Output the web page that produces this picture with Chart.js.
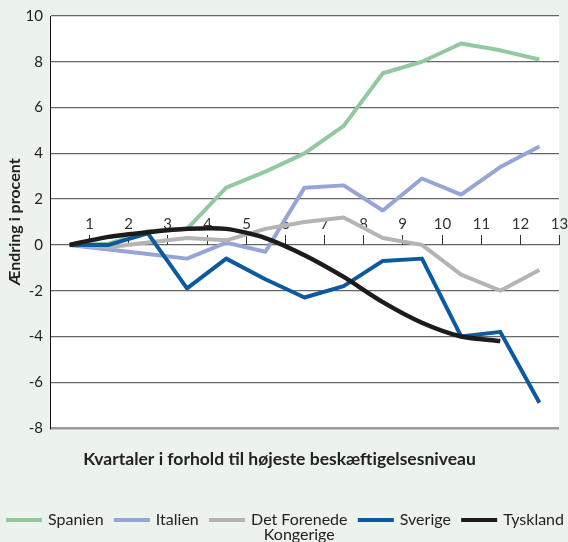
<!DOCTYPE html>
<html>
<head>
<meta charset="utf-8">
<script src="https://cdn.jsdelivr.net/npm/chart.js@4"></script>
<style>
  html, body { margin: 0; padding: 0; background: #ecf3ec; }
  #wrap { width: 568px; height: 542px; }
</style>
</head>
<body>
<div id="wrap"><canvas id="chart" width="568" height="542"></canvas></div>
<script>
// --- DATA ---
const quarters = ['1', '2', '3', '4', '5', '6', '7', '8', '9', '10', '11', '12', '13'];
const yTickValues = [-8, -6, -4, -2, 0, 2, 4, 6, 8, 10];

const spanien    = [0, 0.05, 0.6, 0.7, 2.5, 3.2, 4.0, 5.2, 7.5, 8.0, 8.8, 8.5, 8.1];
const italien    = [0, -0.2, -0.4, -0.6, 0.1, -0.3, 2.5, 2.6, 1.5, 2.9, 2.2, 3.4, 4.3];
const kongerige  = [0, -0.1, 0.1, 0.3, 0.2, 0.7, 1.0, 1.2, 0.3, 0.0, -1.3, -2.0, -1.1];
const sverige    = [0, 0, 0.5, -1.9, -0.6, -1.5, -2.3, -1.8, -0.7, -0.6, -4.0, -3.8, -6.9];
const tyskland   = [0, 0.35, 0.55, 0.7, 0.7, 0.3, -0.45, -1.4, -2.5, -3.4, -4.0, -4.2];

const FONT = 'Lato, "Open Sans", sans-serif';
Chart.defaults.font.family = FONT;

// white plot area on the green page
const plotBackground = {
  id: 'plotBackground',
  beforeDraw(chart) {
    const { ctx, chartArea: a } = chart;
    ctx.save();
    ctx.fillStyle = '#ffffff';
    ctx.fillRect(a.left, a.top, a.right - a.left, a.bottom - a.top);
    ctx.restore();
  }
};

// quarter ticks sit on the zero line, labels above, at the band edges
const zeroAxis = {
  id: 'zeroAxis',
  beforeDatasetsDraw(chart) {
    const { ctx, scales: { x, y } } = chart;
    const y0 = Math.round(y.getPixelForValue(0));
    const band = x.width / quarters.length;
    ctx.save();
    ctx.strokeStyle = '#333';
    ctx.lineWidth = 1;
    ctx.font = '15px ' + FONT;
    ctx.fillStyle = '#333';
    ctx.textAlign = 'center';
    ctx.textBaseline = 'middle';
    quarters.forEach((q, i) => {
      const px = Math.round(x.getPixelForValue(i) + band / 2) + 0.5;
      ctx.beginPath();
      ctx.moveTo(px, y0);
      ctx.lineTo(px, y0 - 10);
      ctx.stroke();
      ctx.fillText(q, px, y0 - 21);
    });
    ctx.restore();
  }
};

// legend along the bottom, labels may wrap with \n
const bottomLegend = {
  id: 'bottomLegend',
  afterDraw(chart) {
    const { ctx } = chart;
    ctx.save();
    ctx.font = '16px ' + FONT;
    const lineLen = 36, gap = 6;
    const items = chart.data.datasets.map(ds => {
      const lines = ds.label.split('\n');
      const tw = Math.max(...lines.map(l => ctx.measureText(l).width));
      return { ds, lines, tw, w: lineLen + gap + tw };
    });
    const left = 6, right = 564, yPos = 520;
    const total = items.reduce((s, it) => s + it.w, 0);
    const space = (right - left - total) / (items.length - 1);
    let xPos = left;
    items.forEach(it => {
      ctx.strokeStyle = it.ds.borderColor;
      ctx.lineWidth = 4;
      ctx.beginPath();
      ctx.moveTo(xPos, yPos);
      ctx.lineTo(xPos + lineLen, yPos);
      ctx.stroke();
      ctx.fillStyle = '#222';
      ctx.textAlign = 'center';
      ctx.textBaseline = 'middle';
      it.lines.forEach((l, k) => ctx.fillText(l, xPos + lineLen + gap + it.tw / 2, yPos + k * 15));
      xPos += it.w + space;
    });
    ctx.restore();
  }
};

function line(label, data, color, order, extra) {
  return Object.assign({
    label, data, borderColor: color, backgroundColor: color,
    borderWidth: 4, pointRadius: 0, tension: 0, order,
    borderJoinStyle: 'round', fill: false
  }, extra || {});
}

new Chart(document.getElementById('chart'), {
  type: 'line',
  data: {
    labels: quarters,
    datasets: [
      line('Spanien', spanien, '#93c9a1', 5),
      line('Italien', italien, '#95a5d7', 4),
      line('Det Forenede\nKongerige', kongerige, '#b4b4b4', 3),
      line('Sverige', sverige, '#0b5aa0', 2),
      line('Tyskland', tyskland, '#1d1c1a', 1, { borderWidth: 4.5, tension: 0.25 })
    ]
  },
  options: {
    responsive: false,
    animation: false,
    layout: { padding: { left: 0, right: 9, top: 13, bottom: 72 } },
    scales: {
      x: { type: 'category', offset: true, display: false },
      y: {
        min: -8, max: 10,
        afterBuildTicks: s => { s.ticks = yTickValues.map(v => ({ value: v })); },
        afterFit: s => { s.width = 50; },
        border: { display: true, color: '#111', width: 1 },
        grid: {
          drawTicks: false,
          color: c => c.tick && c.tick.value === -8 ? '#9a9a9a' : '#666',
          lineWidth: c => c.tick && c.tick.value === -8 ? 2.5 : 1.3
        },
        ticks: { padding: 7, font: { size: 15 }, color: '#222' },
        title: {
          display: true, text: 'Ændring i procent', color: '#222',
          font: { size: 16, weight: 'bold' }, padding: { top: 5, bottom: 0 }
        }
      }
    },
    plugins: {
      legend: { display: false },
      tooltip: { enabled: false },
      title: {
        display: true, position: 'bottom', color: '#222',
        text: 'Kvartaler i forhold til højeste beskæftigelsesniveau',
        font: { size: 17.5, weight: 'bold' }, padding: { top: 21, bottom: 0 }
      }
    }
  },
  plugins: [plotBackground, zeroAxis, bottomLegend]
});
</script>
</body>
</html>
